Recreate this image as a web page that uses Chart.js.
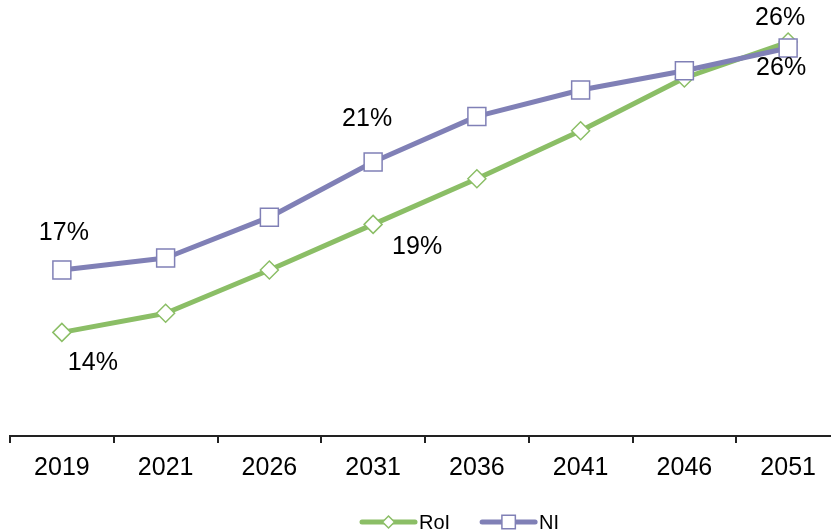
<!DOCTYPE html>
<html><head><meta charset="utf-8">
<script src="https://cdn.jsdelivr.net/npm/chart.js@4/dist/chart.umd.min.js"></script>
<style>
html,body{margin:0;padding:0;background:#fff;overflow:hidden;}
#c{position:absolute;left:0;top:0;}
</style></head><body>
<canvas id="c" width="840" height="531"></canvas>
<script>
// ---- data ----
const categories = ['2019', '2021', '2026', '2031', '2036', '2041', '2046', '2051'];
const roiValues = [14.1, 14.9, 16.7, 18.6, 20.5, 22.5, 24.7, 26.2];
const niValues  = [16.7, 17.2, 18.9, 21.2, 23.1, 24.2, 25.0, 25.95];
const seriesNames = ['RoI', 'NI'];
const labelledIndexes = [0, 3, 7];

// ---- style ----
const GREEN = 'rgb(139,190,102)';
const PURPLE = 'rgb(128,128,182)';
const FONT = '"Liberation Sans", Arial, Helvetica, sans-serif';
const LABEL_OFFSETS = [
  [[31, 31], [44, 23], [-8, -24]],
  [[2, -37], [-6, -43], [-7, 20]]
];
const MARKERS = [
  {style: 'rectRot', radius: 9, legendRadius: 6},
  {style: 'rect', radius: 12.7, legendRadius: 9.5}
];

Chart.defaults.font.family = FONT;

const dataLabelPlugin = {
  id: 'dataLabels',
  afterDatasetsDraw(chart) {
    const ctx = chart.ctx;
    ctx.save();
    ctx.font = '25px ' + FONT;
    ctx.fillStyle = '#000';
    ctx.textAlign = 'center';
    ctx.textBaseline = 'middle';
    chart.data.datasets.forEach((ds, di) => {
      const meta = chart.getDatasetMeta(di);
      labelledIndexes.forEach((idx, k) => {
        const pt = meta.data[idx];
        const off = LABEL_OFFSETS[di][k];
        ctx.fillText(Math.round(ds.data[idx]) + '%', pt.x + off[0], pt.y + off[1]);
      });
    });
    ctx.restore();
  }
};

function drawMarker(ctx, style, r, x, y, color) {
  ctx.beginPath();
  if (style === 'rectRot') {
    ctx.moveTo(x - r, y); ctx.lineTo(x, y - r); ctx.lineTo(x + r, y); ctx.lineTo(x, y + r);
    ctx.closePath();
  } else {
    const s = r * Math.SQRT1_2;
    ctx.rect(x - s, y - s, 2 * s, 2 * s);
  }
  ctx.fillStyle = '#fff';
  ctx.fill();
  ctx.lineWidth = 1.5;
  ctx.strokeStyle = color;
  ctx.stroke();
}

const legendPlugin = {
  id: 'lineLegend',
  afterDraw(chart) {
    const ctx = chart.ctx;
    ctx.save();
    ctx.font = '20px ' + FONT;
    ctx.textBaseline = 'middle';
    ctx.textAlign = 'left';
    let x = 360;
    const y = 522;
    chart.data.datasets.forEach((ds, di) => {
      ctx.beginPath();
      ctx.moveTo(x + 2, y); ctx.lineTo(x + 55, y);
      ctx.lineWidth = 5; ctx.lineCap = 'round'; ctx.strokeStyle = ds.borderColor;
      ctx.stroke();
      drawMarker(ctx, MARKERS[di].style, MARKERS[di].legendRadius, x + 28.5, y, ds.borderColor);
      ctx.fillStyle = '#000';
      ctx.fillText(ds.label, x + 59, y + 1);
      x += 59 + ctx.measureText(ds.label).width + 30;
    });
    ctx.restore();
  }
};

new Chart(document.getElementById('c'), {
  type: 'line',
  data: {
    labels: categories,
    datasets: [
      {
        label: seriesNames[0], data: roiValues, order: 1,
        borderColor: GREEN, borderWidth: 5, tension: 0, borderJoinStyle: 'round',
        pointStyle: MARKERS[0].style, pointRadius: MARKERS[0].radius,
        pointBackgroundColor: '#fff', pointBorderColor: GREEN, pointBorderWidth: 1.5
      },
      {
        label: seriesNames[1], data: niValues, order: 0,
        borderColor: PURPLE, borderWidth: 5, tension: 0, borderJoinStyle: 'round',
        pointStyle: MARKERS[1].style, pointRadius: MARKERS[1].radius,
        pointBackgroundColor: '#fff', pointBorderColor: PURPLE, pointBorderWidth: 1.5
      }
    ]
  },
  options: {
    responsive: false,
    animation: false,
    layout: {autoPadding: false, padding: {left: 10, right: 0, top: 0, bottom: 38}},
    plugins: {legend: {display: false}, tooltip: {enabled: false}},
    scales: {
      x: {
        offset: true,
        grid: {display: true, drawOnChartArea: false, drawTicks: true, tickLength: 7, color: '#222', lineWidth: 2, offset: true},
        border: {display: true, color: '#222', width: 2},
        ticks: {color: '#000', font: {size: 25}, padding: 10, maxRotation: 0, autoSkip: false}
      },
      y: {display: false, min: 9.783, max: 27.95}
    }
  },
  plugins: [dataLabelPlugin, legendPlugin]
});
</script>
</body></html>
